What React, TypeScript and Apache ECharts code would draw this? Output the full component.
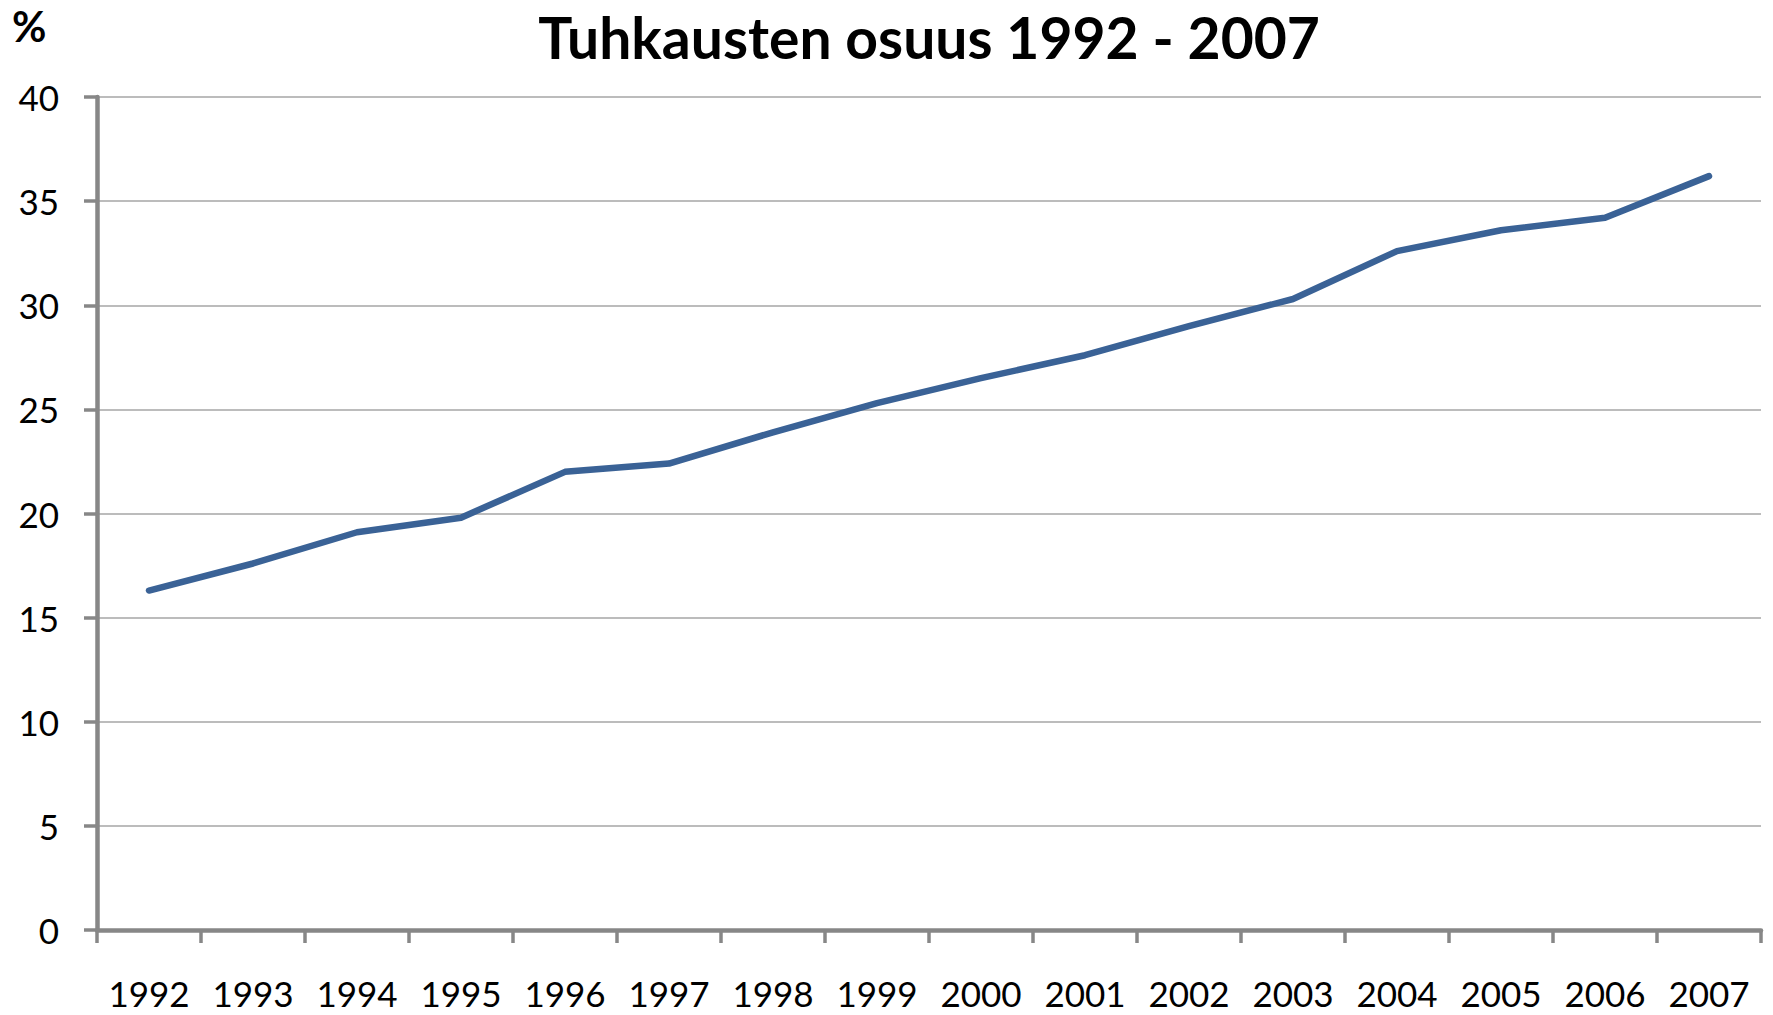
import React, { useEffect, useRef } from "react";
import * as echarts from "echarts";

const years = ["1992", "1993", "1994", "1995", "1996", "1997", "1998", "1999", "2000", "2001", "2002", "2003", "2004", "2005", "2006", "2007"];
const shares = [16.3, 17.6, 19.1, 19.8, 22.0, 22.4, 23.9, 25.3, 26.5, 27.6, 29.0, 30.3, 32.6, 33.6, 34.2, 36.2];
const titleText = "Tuhkausten osuus 1992 - 2007";
const unitText = "%";

export default function App() {
  const ref = useRef<HTMLDivElement>(null);
  useEffect(() => {
    document.body.style.margin = "0";
    const chart = echarts.init(ref.current!, null, { renderer: "svg" });
    const axisGray = "#878787";
    const font = "Lato, 'Open Sans', sans-serif";
    chart.setOption({
      animation: false,
      backgroundColor: "#ffffff",
      title: {
        text: titleText,
        left: 929,
        top: 7,
        padding: 0,
        textAlign: "center",
        textStyle: { fontFamily: font, fontWeight: "bold", fontSize: 57, lineHeight: 60, color: "#000000" },
      },
      graphic: [
        {
          type: "text",
          left: 12,
          top: 5,
          style: { text: unitText, fontFamily: font, fontWeight: "bold", fontSize: 42, fill: "#000000" },
        },
      ],
      grid: { left: 97, right: 12, top: 97, bottom: 85, containLabel: false },
      xAxis: {
        type: "category",
        data: years,
        boundaryGap: true,
        axisLine: { show: true, lineStyle: { color: axisGray, width: 4.5 } },
        axisTick: { show: true, length: 13, alignWithLabel: false, lineStyle: { color: axisGray, width: 3.5 } },
        axisLabel: { margin: 45, fontFamily: font, fontSize: 35, color: "#000000", interval: 0 },
        splitLine: { show: false },
      },
      yAxis: {
        type: "value",
        min: 0,
        max: 40,
        interval: 5,
        axisLine: { show: true, lineStyle: { color: axisGray, width: 4.5 } },
        axisTick: { show: true, length: 13, lineStyle: { color: axisGray, width: 3.5 } },
        axisLabel: { margin: 38, fontFamily: font, fontSize: 35, color: "#000000" },
        splitLine: { show: true, lineStyle: { color: "#a6a6a6", width: 1.5 } },
      },
      series: [
        {
          type: "line",
          data: shares,
          showSymbol: false,
          symbol: "none",
          lineStyle: { color: "#3a6296", width: 6.5, cap: "round", join: "round" },
          itemStyle: { color: "#3a6296" },
        },
      ],
    });
    return () => chart.dispose();
  }, []);
  return <div ref={ref} style={{ width: 1773, height: 1015 }} />;
}
